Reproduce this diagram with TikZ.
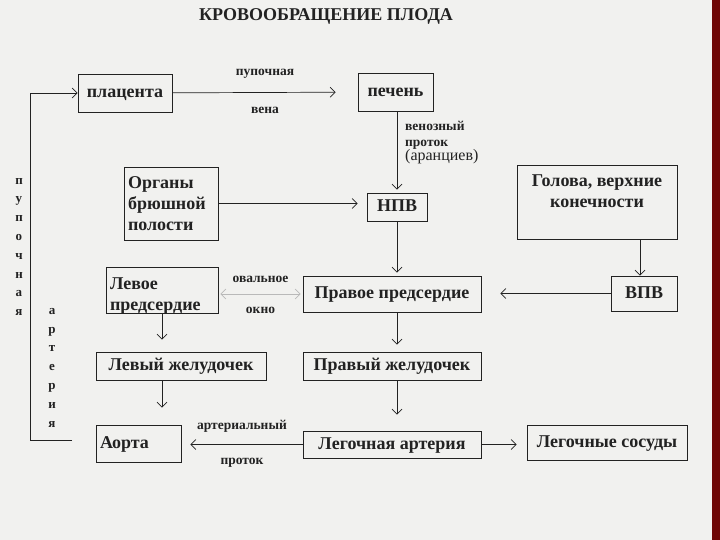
\documentclass[tikz,border=0pt]{standalone}
\usepackage{fontspec}
\setmainfont{Liberation Serif}
\usetikzlibrary{arrows.meta, positioning}
\definecolor{paper}{HTML}{F1F1EF}
\definecolor{slidered}{HTML}{6E0606}
\definecolor{ink}{HTML}{222222}

\begin{document}
\begin{tikzpicture}[x=1pt, y=-1pt]
    % styles
    \tikzstyle{organ} = [rectangle, draw=ink, line width=0.9pt, text=ink, font=\bfseries\fontsize{18}{21}\selectfont, inner sep=2pt]
    \tikzstyle{oneline} = [text height=9pt, text depth=0pt]
    \tikzstyle{flow} = [draw=ink, line width=0.7pt, ->, >={Straight Barb[length=5pt, width=10pt]}]
    \tikzstyle{tag} = [text=ink, font=\bfseries\fontsize{13.5}{16}\selectfont]
    \tikzstyle{vword} = [text=ink, align=center, font=\bfseries\fontsize{13}{18.8}\selectfont]

    % page
    \fill[paper] (0,0) rectangle (720,540);
    \fill[slidered] (712,0) rectangle (720,540);

    \node (title) [text=ink, font=\bfseries\fontsize{18}{20}\selectfont] at (326,16) {КРОВООБРАЩЕНИЕ ПЛОДА};

    % boxes
    \node (plac) [organ, oneline, minimum width=94pt, minimum height=38pt] at (125,93) {плацента};
    \node (liver) [organ, oneline, minimum width=75pt, minimum height=38pt] at (395.5,92) {печень};
    \node (abd) [organ, minimum width=94pt, minimum height=73pt, text width=86pt, align=left] at (171,203.5) {Органы\\брюшной\\полости};
    \node (ivc) [organ, oneline, minimum width=60pt, minimum height=28pt] at (397,207) {НПВ};
    \node (head) [organ, minimum width=160pt, minimum height=74pt, align=center] at (597,202) {Голова, верхние\\конечности\\\mbox{}};
    \node (svc) [organ, oneline, minimum width=66pt, minimum height=35pt] at (644,293.5) {ВПВ};
    \node (ra) [organ, oneline, minimum width=178pt, minimum height=36pt] at (392,294) {Правое предсердие};
    \node (la) [organ, minimum width=112pt, minimum height=46pt, text width=104pt, align=left, text depth=13pt] at (162,290) {Левое\\предсердие};
    \node (lv) [organ, oneline, minimum width=170pt, minimum height=28pt] at (181,366) {Левый желудочек};
    \node (rv) [organ, oneline, minimum width=178pt, minimum height=28pt] at (392,366) {Правый желудочек};
    \node (aorta) [organ, oneline, minimum width=85pt, minimum height=37pt, text width=77pt, align=left] at (138.5,443.5) {Аорта};
    \node (pa) [organ, oneline, minimum width=178pt, minimum height=27pt] at (392,444.5) {Легочная артерия};
    \node (pv) [organ, oneline, minimum width=160pt, minimum height=35pt] at (607,442.5) {Легочные сосуды};

    % vessels
    \draw [flow, shorten >=22pt] (plac) -- (liver)
        node[tag, midway, above=10pt] {пупочная}
        node[tag, midway, below=11pt] {вена};
    \draw [flow, shorten >=3pt] (liver.south -| ivc) -- (ivc.north);
    \node (duct) [tag, anchor=north west, align=left, inner sep=0pt] at (405,121) {венозный\\проток\\[-2pt]{\normalfont\fontsize{16}{17}\selectfont (аранциев)}};
    \draw [flow, shorten >=9pt] (abd.east) -- (abd.east -| ivc.west);
    \draw [flow, shorten >=3pt] (ivc.south) -- (ivc.south |- ra.north);
    \draw [flow] (head.south -| 640,0) -- (svc.north -| 640,0);
    \draw [flow, shorten >=19pt] (svc.west) -- (svc.west -| ra.east);
    \draw [draw=gray!55, line width=0.7pt, <->, >={Straight Barb[length=5pt, width=10pt]}, shorten <=2pt, shorten >=2pt] (ra.west) -- (ra.west -| la.east)
        node[tag, midway, above=8pt] {овальное}
        node[tag, midway, below=9pt] {окно};
    \draw [flow, shorten >=12pt] (la.south) -- (la.south |- lv.north);
    \draw [flow, shorten >=17pt] (lv.south -| la) -- (aorta.north -| la);
    \draw [flow, shorten >=7pt] (ra.south -| ivc) -- (rv.north -| ivc);
    \draw [flow, shorten >=16pt] (rv.south -| ivc) -- (pa.north -| ivc);
    \draw [flow, shorten >=9pt] (pa.west) -- (pa.west -| aorta.east)
        node[tag, midway, above=8pt] {артериальный}
        node[tag, midway, below=10pt] {проток};
    \draw [flow, shorten >=10pt] (pa.east) -- (pa.east -| pv.west);

    % umbilical artery back to the placenta
    \coordinate (artEnd) at (72,440);
    \coordinate (artCorner) at (30,440);
    \draw [flow] (artEnd) -- (artCorner) |- (plac.west);
    \node (umbWord) [vword, anchor=north, inner sep=0pt] at (19,178) {п\\у\\п\\о\\ч\\н\\а\\я};
    \node (artWord) [vword, anchor=north, inner sep=0pt] at (52,308) {а\\р\\т\\е\\р\\и\\я};
\end{tikzpicture}
\end{document}
